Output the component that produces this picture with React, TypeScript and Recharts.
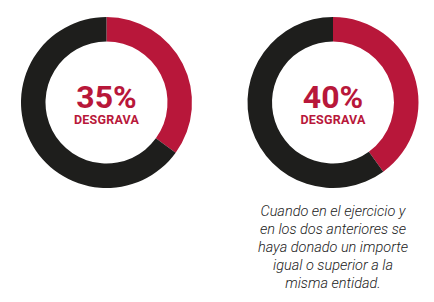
import { PieChart, Pie, Cell, Label } from 'recharts'

const RED = '#b8173a'
const BLACK = '#1e1e1c'

const leftData = [
  { name: 'Desgrava', value: 35 },
  { name: 'Resto', value: 65 },
]
const rightData = [
  { name: 'Desgrava', value: 40 },
  { name: 'Resto', value: 60 },
]
const leftLabel = '35%'
const rightLabel = '40%'
const subLabel = 'DESGRAVA'
const noteLines = [
  'Cuando en el ejercicio y',
  'en los dos anteriores se',
  'haya donado un importe',
  'igual o superior a la',
  'misma entidad.',
]

const LEFT_CX = 106.5
const RIGHT_CX = 333
const CY = 102.5

function CenterText({ cx, cy, big }: { cx: number; cy: number; big: string }) {
  return (
    <g>
      <text
        x={cx}
        y={cy + 5}
        textAnchor="middle"
        fill={RED}
        fontFamily="Roboto"
        fontWeight={700}
        fontSize={32}
      >
        {big}
      </text>
      <text
        x={cx}
        y={cy + 21.5}
        textAnchor="middle"
        fill={RED}
        fontFamily="Roboto"
        fontWeight={700}
        fontSize={12.5}
        letterSpacing={0.2}
      >
        {subLabel}
      </text>
    </g>
  )
}

export default function App() {
  return (
    <div style={{ position: 'absolute', left: 0, top: 0, width: 434, height: 302, background: '#fff' }}>
      <PieChart width={434} height={302} margin={{ top: 0, right: 0, bottom: 0, left: 0 }}>
        <Pie
          data={leftData}
          dataKey="value"
          cx={LEFT_CX}
          cy={CY}
          innerRadius={61}
          outerRadius={85.5}
          startAngle={90}
          endAngle={-270}
          stroke="none"
          isAnimationActive={false}
        >
          <Cell fill={RED} />
          <Cell fill={BLACK} />
          <Label content={() => <CenterText cx={LEFT_CX} cy={CY} big={leftLabel} />} />
        </Pie>
        <Pie
          data={rightData}
          dataKey="value"
          cx={RIGHT_CX}
          cy={CY}
          innerRadius={61}
          outerRadius={85.5}
          startAngle={90}
          endAngle={-270}
          stroke="none"
          isAnimationActive={false}
        >
          <Cell fill={RED} />
          <Cell fill={BLACK} />
          <Label content={() => <CenterText cx={RIGHT_CX} cy={CY} big={rightLabel} />} />
        </Pie>
      </PieChart>
      <div
        style={{
          position: 'absolute',
          left: 233,
          top: 203,
          width: 200,
          textAlign: 'center',
          fontFamily: 'Roboto',
          fontWeight: 300,
          fontStyle: 'italic',
          fontSize: 14.5,
          lineHeight: '18px',
          color: '#222',
        }}
      >
        {noteLines.map((l) => (
          <div key={l}>{l}</div>
        ))}
      </div>
    </div>
  )
}
